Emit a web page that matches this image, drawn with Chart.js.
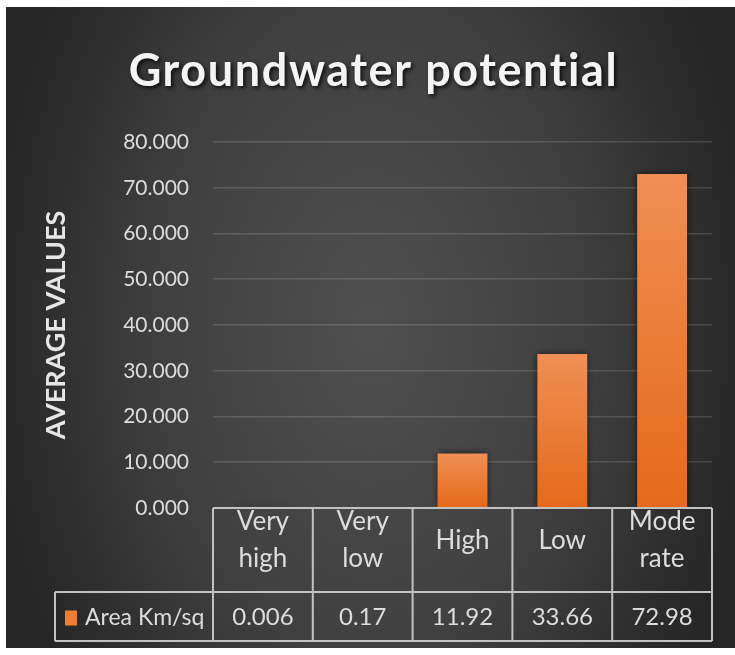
<!DOCTYPE html>
<html>
<head>
<meta charset="utf-8">
<script src="https://cdn.jsdelivr.net/npm/chart.js@4.4.1/dist/chart.umd.min.js"></script>
<style>
  html, body { margin: 0; padding: 0; background: #ffffff; }
  #wrap { position: absolute; left: 6px; top: 7px; width: 729px; height: 641px; }
  canvas { display: block; }
</style>
</head>
<body>
<div id="wrap"><canvas id="chart" width="729" height="641"></canvas></div>
<script>
// Chart content
const chartTitle = 'Groundwater potential';
const yAxisTitle = 'AVERAGE VALUES';
const seriesName = 'Area Km/sq';
const categories = [['Very', 'high'], ['Very', 'low'], 'High', 'Low', ['Mode', 'rate']];
const areaValues = [0.006, 0.17, 11.92, 33.66, 72.98];
const yMin = 0;
const yMax = 80;
const yStep = 10;

const ORANGE = '#ED7D31';
const TEXT = '#dcdcdc';
const FONT = 'Lato, "Open Sans", sans-serif';

Chart.defaults.font.family = FONT;

// Dark elliptical backdrop behind the whole chart
const backdrop = {
  id: 'backdrop',
  beforeDraw(chart) {
    const { ctx, width, height } = chart;
    ctx.save();
    ctx.translate(width / 2, height / 2);
    ctx.scale(1, 1.55);
    const g = ctx.createRadialGradient(0, 0, 0, 0, 0, 380);
    g.addColorStop(0, '#4f4f4f');
    g.addColorStop(0.55, '#404040');
    g.addColorStop(1, '#262626');
    ctx.fillStyle = g;
    ctx.fillRect(-width, -height, width * 2, height * 2);
    ctx.restore();
  }
};

// Heading with a soft drop shadow
const heading = {
  id: 'heading',
  afterDraw(chart) {
    const ctx = chart.ctx;
    ctx.save();
    ctx.font = `bold 45px ${FONT}`;
    if ('letterSpacing' in ctx) ctx.letterSpacing = '1.6px';
    ctx.textAlign = 'center';
    ctx.textBaseline = 'alphabetic';
    ctx.shadowColor = 'rgba(0,0,0,0.8)';
    ctx.shadowBlur = 4;
    ctx.shadowOffsetX = 2;
    ctx.shadowOffsetY = 2;
    ctx.fillStyle = '#f4f4f4';
    ctx.fillText(chartTitle, chart.width / 2 + 3, 79);
    ctx.restore();
  }
};

// Dark glow around the bars
const barShadow = {
  id: 'barShadow',
  beforeDatasetsDraw(chart) {
    const ctx = chart.ctx;
    ctx.save();
    ctx.shadowColor = 'rgba(0,0,0,0.75)';
    ctx.shadowBlur = 7;
  },
  afterDatasetsDraw(chart) {
    chart.ctx.restore();
  }
};

// Data table under the plot: grid lines, series key and the values row
const dataTable = {
  id: 'dataTable',
  afterDraw(chart) {
    const { ctx, chartArea: a, scales: { x } } = chart;
    const n = categories.length;
    const top = a.bottom;
    const mid = top + 84;
    const bot = top + 133;
    const keyLeft = 49;
    ctx.save();
    ctx.strokeStyle = '#c2c2c2';
    ctx.lineWidth = 2;
    ctx.beginPath();
    ctx.moveTo(x.getPixelForValue(-0.5), top);
    ctx.lineTo(x.getPixelForValue(n - 0.5), top);
    ctx.moveTo(keyLeft, mid);
    ctx.lineTo(x.getPixelForValue(n - 0.5), mid);
    ctx.moveTo(keyLeft, bot);
    ctx.lineTo(x.getPixelForValue(n - 0.5), bot);
    ctx.moveTo(keyLeft, mid);
    ctx.lineTo(keyLeft, bot);
    for (let i = 0; i <= n; i++) {
      const px = x.getPixelForValue(i - 0.5);
      ctx.moveTo(px, top);
      ctx.lineTo(px, bot);
    }
    ctx.stroke();

    const rowY = (mid + bot) / 2;
    ctx.font = `24px ${FONT}`;
    ctx.fillStyle = TEXT;
    ctx.textAlign = 'center';
    ctx.textBaseline = 'middle';
    areaValues.forEach((v, i) => {
      ctx.fillText(String(v), x.getPixelForValue(i), rowY + 1);
    });

    ctx.fillStyle = ORANGE;
    ctx.fillRect(keyLeft + 10, rowY - 6, 12, 15);
    ctx.fillStyle = TEXT;
    ctx.textAlign = 'left';
    ctx.font = `23px ${FONT}`;
    ctx.fillText(seriesName, keyLeft + 30, rowY + 1);
    ctx.restore();
  }
};

function barFill(context) {
  const chart = context.chart;
  if (!chart.chartArea || context.type !== 'data') return ORANGE;
  const y = chart.scales.y;
  const topPx = y.getPixelForValue(context.raw);
  const basePx = y.getPixelForValue(0);
  if (!(basePx - topPx > 1)) return ORANGE;
  const g = chart.ctx.createLinearGradient(0, topPx, 0, basePx);
  g.addColorStop(0, '#F08F55');
  g.addColorStop(1, '#E5691A');
  return g;
}

new Chart(document.getElementById('chart'), {
  type: 'bar',
  data: {
    labels: categories,
    datasets: [{
      label: seriesName,
      data: areaValues,
      backgroundColor: barFill,
      borderWidth: 0,
      categoryPercentage: 0.5,
      barPercentage: 1
    }]
  },
  options: {
    responsive: false,
    animation: false,
    devicePixelRatio: 1,
    layout: { padding: { top: 135, right: 23, left: 0, bottom: 0 } },
    plugins: {
      legend: { display: false },
      title: { display: false },
      tooltip: { enabled: false }
    },
    scales: {
      x: {
        grid: { display: false },
        border: { display: false },
        ticks: {
          color: TEXT,
          font: { size: 26, lineHeight: 1.42 },
          padding: 6,
          autoSkip: false,
          maxRotation: 0,
          minRotation: 0,
          crossAlign: 'center'
        },
        afterFit(scale) { scale.height = 140; }
      },
      y: {
        min: yMin,
        max: yMax,
        grid: {
          color: (c) => (c.tick && c.tick.value === 0 ? 'rgba(0,0,0,0)' : 'rgba(255,255,255,0.14)'),
          lineWidth: 1.6,
          drawTicks: false
        },
        border: { display: false },
        ticks: {
          stepSize: yStep,
          color: TEXT,
          font: { size: 21 },
          padding: 24,
          callback: (v) => Number(v).toFixed(3)
        },
        title: {
          display: true,
          text: yAxisTitle,
          color: '#e6e6e6',
          font: { size: 27, weight: 'bold', lineHeight: 1.2 },
          padding: { top: 34, bottom: 0 }
        },
        afterFit(scale) { scale.width = 207; }
      }
    }
  },
  plugins: [backdrop, barShadow, dataTable, heading]
});
</script>
</body>
</html>
